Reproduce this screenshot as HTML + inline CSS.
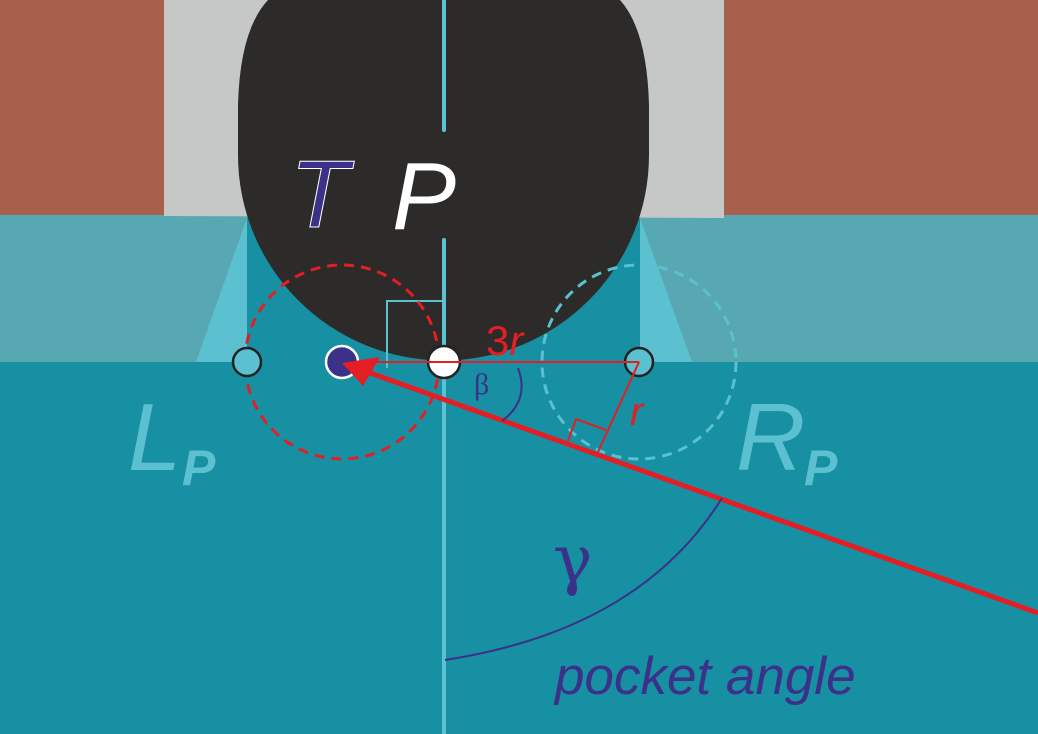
<!DOCTYPE html>
<html><head><style>html,body{margin:0;padding:0;background:#1790a3}svg{display:block}</style></head>
<body>
<svg width="1038" height="734" viewBox="0 0 1038 734" xmlns="http://www.w3.org/2000/svg">
<rect width="1038" height="734" fill="#1790a3"/>
<rect x="0" y="215" width="1038" height="147" fill="#58a8b3"/>
<polygon points="247,218 640,218 640,362 247,362" fill="#1790a3"/>
<rect x="0" y="0" width="164" height="215" fill="#a6604b"/>
<rect x="724" y="0" width="314" height="215" fill="#a6604b"/>
<polygon points="164,0 724,0 724,218 164,216" fill="#c6c7c7"/>
<polygon points="247,218 247,362 196,362" fill="#5bc0cf"/>
<polygon points="640,218 640,362 692,362" fill="#5bc0cf"/>
<path d="M238,155 L238,105 Q240,30 268,0 L620,0 Q647,30 649,105 L649,155 A205.5,205.5 0 0 1 238,155 Z" fill="#2c2b2a"/>
<line x1="444" y1="0" x2="444" y2="130" stroke="#5bc0cf" stroke-width="4" stroke-linecap="round"/>
<line x1="444" y1="240" x2="444" y2="734" stroke="#5bc0cf" stroke-width="4" stroke-linecap="round"/>
<text x="290" y="227" font-family="Liberation Sans, sans-serif" font-style="italic" font-size="96" fill="#3b3188" stroke="#fff" stroke-width="1">T</text>
<text x="392" y="229" font-family="Liberation Sans, sans-serif" font-style="italic" font-size="96" fill="#fff">P</text>
<polyline points="387,368 387,301 444,301" fill="none" stroke="#5bc0cf" stroke-width="2"/>
<circle cx="342" cy="362" r="97" fill="none" stroke="#e31e24" stroke-width="3" stroke-dasharray="10,7"/>
<circle cx="639" cy="362" r="97" fill="none" stroke="#5bc0cf" stroke-width="3" stroke-dasharray="10,7"/>
<circle cx="247" cy="362" r="14" fill="#5bc0cf" stroke="#222" stroke-width="2.5"/>
<circle cx="639" cy="362" r="14" fill="#5bc0cf" stroke="#222" stroke-width="2.5"/>
<circle cx="444" cy="362" r="16" fill="#fff" stroke="#222" stroke-width="2.5"/>
<circle cx="342" cy="362" r="16" fill="#3b3188" stroke="#fff" stroke-width="2.5"/>
<line x1="639" y1="362" x2="355" y2="362" stroke="#e31e24" stroke-width="2"/>
<line x1="639" y1="362" x2="598" y2="452" stroke="#e31e24" stroke-width="2"/>
<polyline points="568,441 576,419 606,430" fill="none" stroke="#e31e24" stroke-width="2"/>
<line x1="1038" y1="613" x2="362" y2="370" stroke="#e31e24" stroke-width="5"/>
<polygon points="342,363 380,357 363,386" fill="#e31e24"/>
<path d="M518,368 Q530,400 502,421" fill="none" stroke="#3b3188" stroke-width="2"/>
<text x="474" y="394" font-family="Liberation Serif, serif" font-size="30" fill="#3b3188">β</text>
<text x="486" y="355" font-family="Liberation Sans, sans-serif" font-size="42" fill="#e31e24">3<tspan font-style="italic">r</tspan></text>
<text x="630" y="425" font-family="Liberation Sans, sans-serif" font-style="italic" font-size="40" fill="#e31e24">r</text>
<path d="M445,660 Q640,630 722,498" fill="none" stroke="#3b3188" stroke-width="2"/>
<text x="553" y="582" font-family="DejaVu Serif, serif" font-size="66" fill="#3b3188">γ</text>
<text x="555" y="694" font-family="Liberation Sans, sans-serif" font-style="italic" font-size="53" fill="#3b3188">pocket angle</text>
<text x="128" y="470" font-family="Liberation Sans, sans-serif" font-style="italic" font-size="96" fill="#5bc0cf">L</text>
<text x="182" y="485" font-family="Liberation Sans, sans-serif" font-style="italic" font-weight="bold" font-size="50" fill="#5bc0cf">P</text>
<text x="736" y="470" font-family="Liberation Sans, sans-serif" font-style="italic" font-size="96" fill="#5bc0cf">R</text>
<text x="804" y="485" font-family="Liberation Sans, sans-serif" font-style="italic" font-weight="bold" font-size="50" fill="#5bc0cf">P</text>
</svg>
</body></html>
